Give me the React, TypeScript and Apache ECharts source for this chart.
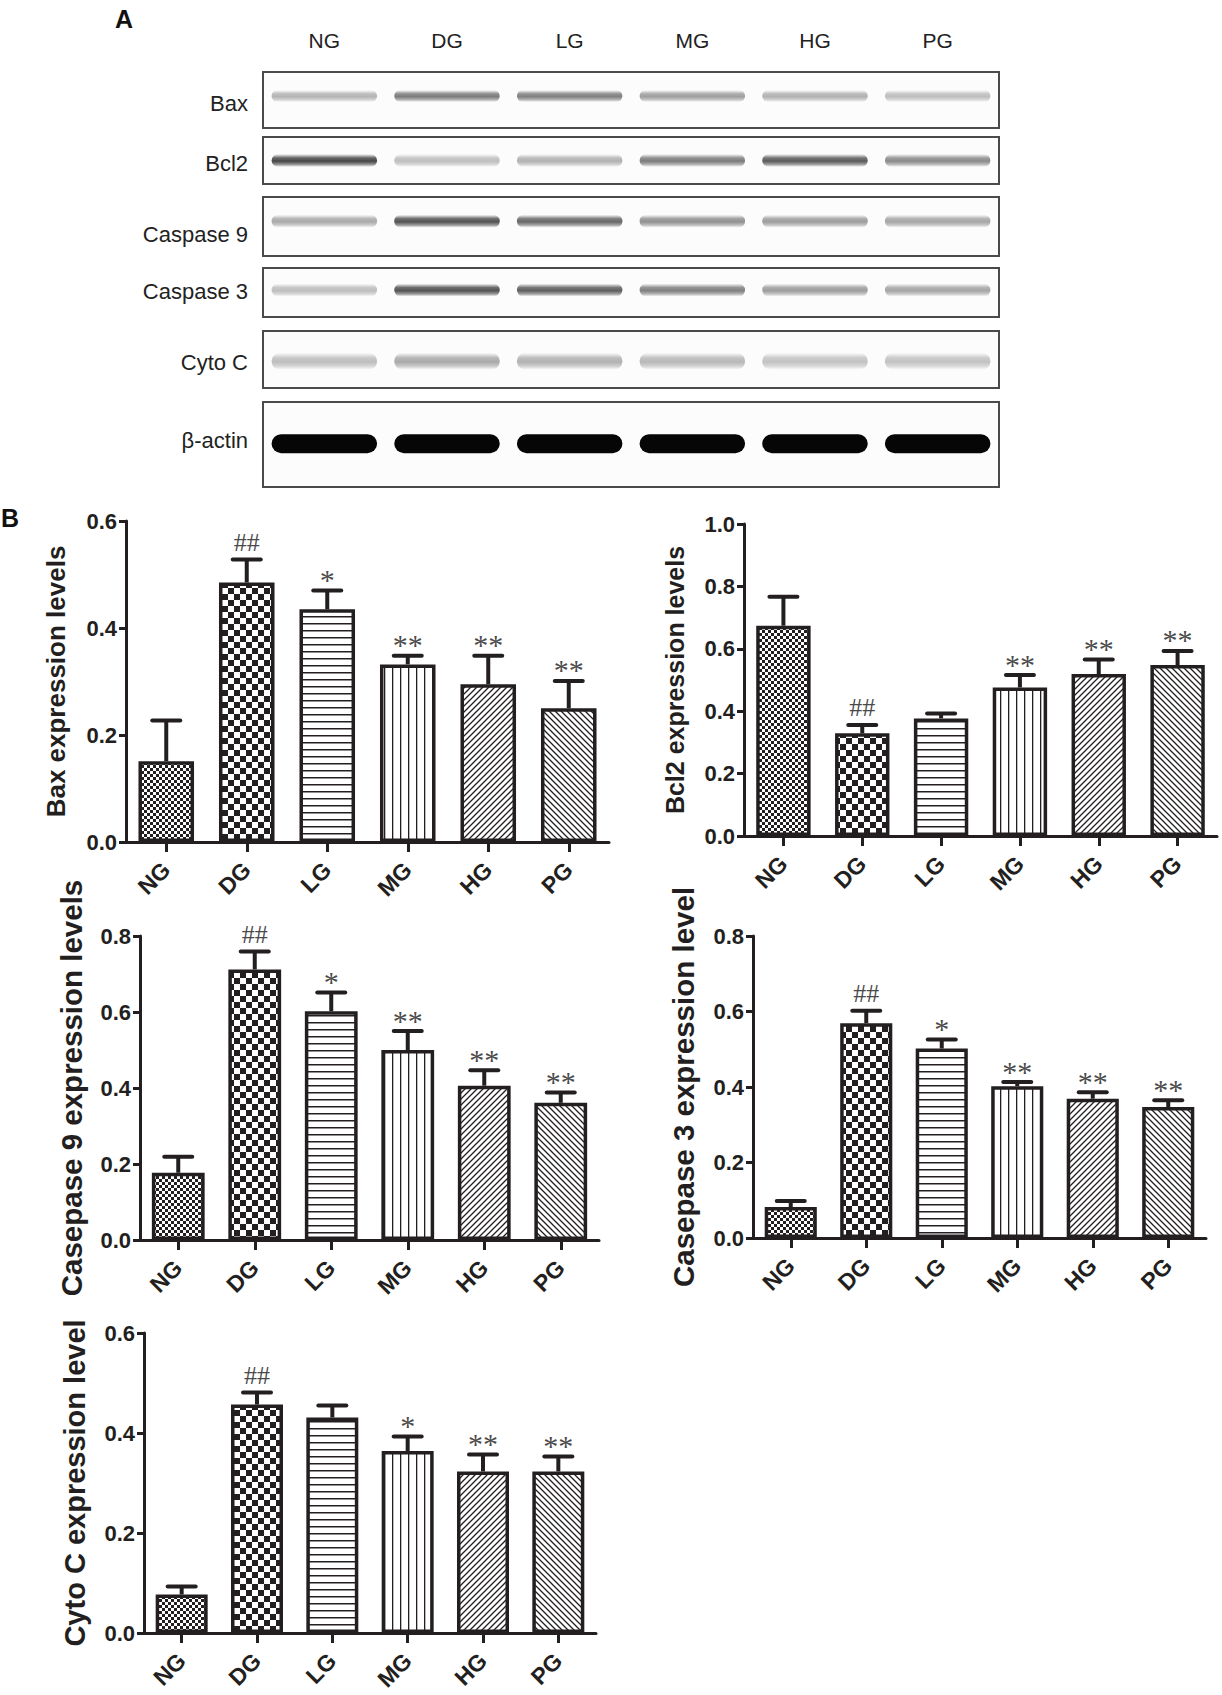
import React, { useEffect, useRef } from 'react';
import * as echarts from 'echarts';

// ---------- DATA ----------
const lanes = ['NG', 'DG', 'LG', 'MG', 'HG', 'PG'];

// Panel A: western blot band intensities (0..1 darkness)
const blotProteins = ['Bax', 'Bcl2', 'Caspase 9', 'Caspase 3', 'Cyto C', 'β-actin'];
const baxBand = [0.35, 0.62, 0.6, 0.45, 0.36, 0.3];
const bcl2Band = [0.88, 0.3, 0.36, 0.62, 0.78, 0.55];
const casp9Band = [0.4, 0.82, 0.72, 0.52, 0.46, 0.42];
const casp3Band = [0.3, 0.82, 0.76, 0.6, 0.46, 0.42];
const cytoBand = [0.3, 0.4, 0.36, 0.33, 0.28, 0.28];
const actinBand = [1, 1, 1, 1, 1, 1];

// Panel B: means, error (SEM, upper bar only) and significance marks
const baxMean = [0.151, 0.485, 0.435, 0.332, 0.295, 0.25];
const baxErr = [0.076, 0.043, 0.035, 0.016, 0.053, 0.051];
const baxSig = ['', '##', '*', '**', '**', '**'];

const bcl2Mean = [0.674, 0.329, 0.377, 0.476, 0.519, 0.548];
const bcl2Err = [0.093, 0.027, 0.016, 0.04, 0.047, 0.045];
const bcl2Sig = ['', '##', '', '**', '**', '**'];

const casp9Mean = [0.177, 0.712, 0.602, 0.5, 0.406, 0.361];
const casp9Err = [0.042, 0.047, 0.049, 0.05, 0.041, 0.027];
const casp9Sig = ['', '##', '*', '**', '**', '**'];

const casp3Mean = [0.082, 0.569, 0.502, 0.402, 0.369, 0.347];
const casp3Err = [0.016, 0.033, 0.024, 0.011, 0.017, 0.018];
const casp3Sig = ['', '##', '*', '**', '**', '**'];

const cytoMean = [0.077, 0.457, 0.431, 0.364, 0.323, 0.323];
const cytoErr = [0.016, 0.024, 0.024, 0.029, 0.034, 0.03];
const cytoSig = ['', '##', '', '*', '**', '**'];

const yNames = [
  'Bax expression levels',
  'Bcl2 expression levels',
  'Casepase 9 expression levels',
  'Casepase 3 expression level',
  'Cyto C expression level',
];
const yMax = [0.6, 1.0, 0.8, 0.8, 0.6];

// ---------- STYLE / LAYOUT ----------
const INK = '#231f20';
const SANS = '"Liberation Sans", Arial, Helvetica, sans-serif';
const SERIF = '"Liberation Serif", "Times New Roman", serif';

const blotLayout = [
  { top: 72, height: 56, pos: 0.43, h: 12, solid: false, labelY: 103 },
  { top: 137, height: 47, pos: 0.5, h: 13, solid: false, labelY: 163 },
  { top: 197, height: 59, pos: 0.41, h: 13, solid: false, labelY: 234 },
  { top: 268, height: 49, pos: 0.45, h: 13, solid: false, labelY: 291 },
  { top: 331, height: 57, pos: 0.53, h: 17, solid: false, labelY: 362 },
  { top: 402, height: 85, pos: 0.49, h: 19, solid: true, labelY: 440 },
];

const panelLayout = [
  { left: 126, top: 521, width: 483, height: 321, nameSize: 26, nameGap: 57 },
  { left: 744, top: 524, width: 473, height: 312, nameSize: 25, nameGap: 57 },
  { left: 140, top: 936, width: 459, height: 304, nameSize: 29.5, nameGap: 54 },
  { left: 753, top: 936, width: 453, height: 302, nameSize: 29.5, nameGap: 55 },
  { left: 144, top: 1333, width: 452, height: 300, nameSize: 29, nameGap: 55 },
];

function makePattern(kind: string) {
  const c = document.createElement('canvas');
  let w = 6;
  let h = 6;
  if (kind === 'checker') { w = 12; h = 12; }
  if (kind === 'hlines') { w = 7; h = 7; }
  if (kind === 'vlines') { w = 8; h = 8; }
  c.width = w;
  c.height = h;
  const g = c.getContext('2d') as CanvasRenderingContext2D;
  g.fillStyle = '#ffffff';
  g.fillRect(0, 0, w, h);
  g.fillStyle = INK;
  g.strokeStyle = INK;
  if (kind === 'fine') {
    g.fillRect(0, 0, 3, 3);
    g.fillRect(3, 3, 3, 3);
  } else if (kind === 'checker') {
    g.fillRect(0, 0, 6, 6);
    g.fillRect(6, 6, 6, 6);
  } else if (kind === 'hlines') {
    g.fillRect(0, 0, w, 1.5);
  } else if (kind === 'vlines') {
    g.fillRect(0, 0, 1.3, h);
  } else if (kind === 'fwd') {
    g.lineWidth = 1.3;
    g.beginPath();
    g.moveTo(-1, h + 1); g.lineTo(w + 1, -1);
    g.moveTo(-1, 1); g.lineTo(1, -1);
    g.moveTo(w - 1, h + 1); g.lineTo(w + 1, h - 1);
    g.stroke();
  } else if (kind === 'back') {
    g.lineWidth = 1.3;
    g.beginPath();
    g.moveTo(-1, -1); g.lineTo(w + 1, h + 1);
    g.moveTo(-1, h - 1); g.lineTo(1, h + 1);
    g.moveTo(w - 1, -1); g.lineTo(w + 1, 1);
    g.stroke();
  }
  return { image: c.toDataURL(), repeat: 'repeat', imageWidth: w, imageHeight: h };
}

export default function App() {
  const ref = useRef<HTMLDivElement>(null);

  useEffect(() => {
    document.body.style.margin = '0';
    if (!ref.current) return;
    const chart = echarts.init(ref.current, null, { renderer: 'svg' });

    const patterns = ['fine', 'checker', 'hlines', 'vlines', 'fwd', 'back'].map(makePattern);
    const bands = [baxBand, bcl2Band, casp9Band, casp3Band, cytoBand, actinBand];
    const means = [baxMean, bcl2Mean, casp9Mean, casp3Mean, cytoMean];
    const errs = [baxErr, bcl2Err, casp9Err, casp3Err, cytoErr];
    const sigs = [baxSig, bcl2Sig, casp9Sig, casp3Sig, cytoSig];

    const grid: any[] = [];
    const xAxis: any[] = [];
    const yAxis: any[] = [];
    const series: any[] = [];

    // ---- Panel A blots ----
    blotLayout.forEach((b, i) => {
      grid.push({
        left: 263, top: b.top, width: 736, height: b.height,
        show: true, borderColor: '#4a4a4a', borderWidth: 2, backgroundColor: '#fcfcfc',
        outerBoundsMode: 'none', containLabel: false,
      });
      xAxis.push({
        type: 'category', gridIndex: i, data: lanes, position: 'top',
        axisLine: { show: false }, axisTick: { show: false }, splitLine: { show: false },
        axisLabel: {
          show: i === 0, interval: 0, margin: 21, fontSize: 21, color: '#222',
          fontFamily: SANS,
        },
      });
      yAxis.push({ type: 'value', gridIndex: i, min: 0, max: 1, inverse: true, show: false });
      series.push({
        type: 'custom', xAxisIndex: i, yAxisIndex: i, clip: false,
        data: bands[i].map((v, j) => [j, v]),
        encode: { x: 0, y: 1 },
        renderItem: (params: any, api: any) => {
          const j = api.value(0);
          const a = api.value(1);
          const c = api.coord([j, b.pos]);
          const w = api.size([1, 0])[0] * 0.86;
          const h = b.h;
          const fill = b.solid
            ? 'rgba(6,6,6,' + a + ')'
            : new echarts.graphic.LinearGradient(0, 0, 0, 1, [
                { offset: 0, color: 'rgba(60,60,60,0)' },
                { offset: 0.3, color: 'rgba(50,50,50,' + a * 0.85 + ')' },
                { offset: 0.55, color: 'rgba(45,45,45,' + a + ')' },
                { offset: 0.8, color: 'rgba(50,50,50,' + a * 0.6 + ')' },
                { offset: 1, color: 'rgba(60,60,60,0)' },
              ]);
          return {
            type: 'rect',
            shape: { x: c[0] - w / 2, y: c[1] - h / 2, width: w, height: h, r: h / 2 },
            style: { fill },
          };
        },
      });
    });

    // ---- Panel B bar charts ----
    panelLayout.forEach((p, k) => {
      const gi = blotLayout.length + k;
      grid.push({
        left: p.left, top: p.top, width: p.width, height: p.height,
        outerBoundsMode: 'none', containLabel: false,
      });
      xAxis.push({
        type: 'category', gridIndex: gi, data: lanes, boundaryGap: true,
        axisLine: { show: true, lineStyle: { color: INK, width: 3 } },
        axisTick: { show: true, alignWithLabel: true, length: 10, lineStyle: { color: INK, width: 3 } },
        splitLine: { show: false },
        axisLabel: {
          interval: 0, rotate: 45, margin: 24, fontSize: 23, fontWeight: 'bold',
          color: INK, fontFamily: SANS,
        },
      });
      yAxis.push({
        type: 'value', gridIndex: gi, min: 0, max: yMax[k], interval: 0.2,
        name: yNames[k], nameLocation: 'middle', nameGap: p.nameGap, nameRotate: 90,
        nameTextStyle: { fontSize: p.nameSize, fontWeight: 'bold', color: INK, fontFamily: SANS },
        axisLine: { show: true, lineStyle: { color: INK, width: 3 } },
        axisTick: { show: true, length: 7, lineStyle: { color: INK, width: 3 } },
        splitLine: { show: false },
        axisLabel: {
          margin: 9, fontSize: 22, fontWeight: 'bold', color: INK, fontFamily: SANS,
          formatter: (v: number) => v.toFixed(1),
        },
      });
      series.push({
        type: 'bar', xAxisIndex: gi, yAxisIndex: gi, barWidth: '69%', z: 2,
        data: means[k].map((v, j) => ({
          value: v,
          itemStyle: { color: patterns[j], borderColor: INK, borderWidth: 3.5 },
        })),
      });
      const sg = sigs[k];
      series.push({
        type: 'custom', xAxisIndex: gi, yAxisIndex: gi, z: 3, clip: false,
        data: means[k].map((m, j) => [j, m, m + errs[k][j]]),
        encode: { x: 0, y: [1, 2] },
        renderItem: (params: any, api: any) => {
          const j = api.value(0);
          const a = api.coord([j, api.value(1)]);
          const b = api.coord([j, api.value(2)]);
          const children: any[] = [
            { type: 'line', shape: { x1: a[0], y1: a[1], x2: b[0], y2: b[1] }, style: { stroke: INK, lineWidth: 4 } },
            { type: 'line', shape: { x1: b[0] - 14, y1: b[1], x2: b[0] + 14, y2: b[1] }, style: { stroke: INK, lineWidth: 4, lineCap: 'round' } },
          ];
          const s = sg[params.dataIndex];
          if (s) {
            const hash = s === '##';
            children.push({
              type: 'text', x: b[0], y: b[1] + (hash ? -4 : 4),
              style: {
                text: s, fill: '#4a4a4a', fontSize: hash ? 26 : 30, fontFamily: SERIF,
                align: 'center', verticalAlign: 'bottom',
              },
            });
          }
          return { type: 'group', children };
        },
      });
    });

    const graphic: any[] = [
      { type: 'text', left: 115, top: 6, style: { text: 'A', fontSize: 25, fontWeight: 'bold', fill: '#111', fontFamily: SANS } },
      { type: 'text', left: 1, top: 505, style: { text: 'B', fontSize: 25, fontWeight: 'bold', fill: '#111', fontFamily: SANS } },
    ];
    blotProteins.forEach((name, i) => {
      graphic.push({
        type: 'text', x: 248, y: blotLayout[i].labelY,
        style: { text: name, fontSize: 22, fill: '#222', fontFamily: SANS, align: 'right', verticalAlign: 'middle' },
      });
    });

    chart.setOption({
      animation: false,
      backgroundColor: '#ffffff',
      grid, xAxis, yAxis, series, graphic,
    });

    return () => chart.dispose();
  }, []);

  return <div ref={ref} style={{ width: 1222, height: 1695 }} />;
}
